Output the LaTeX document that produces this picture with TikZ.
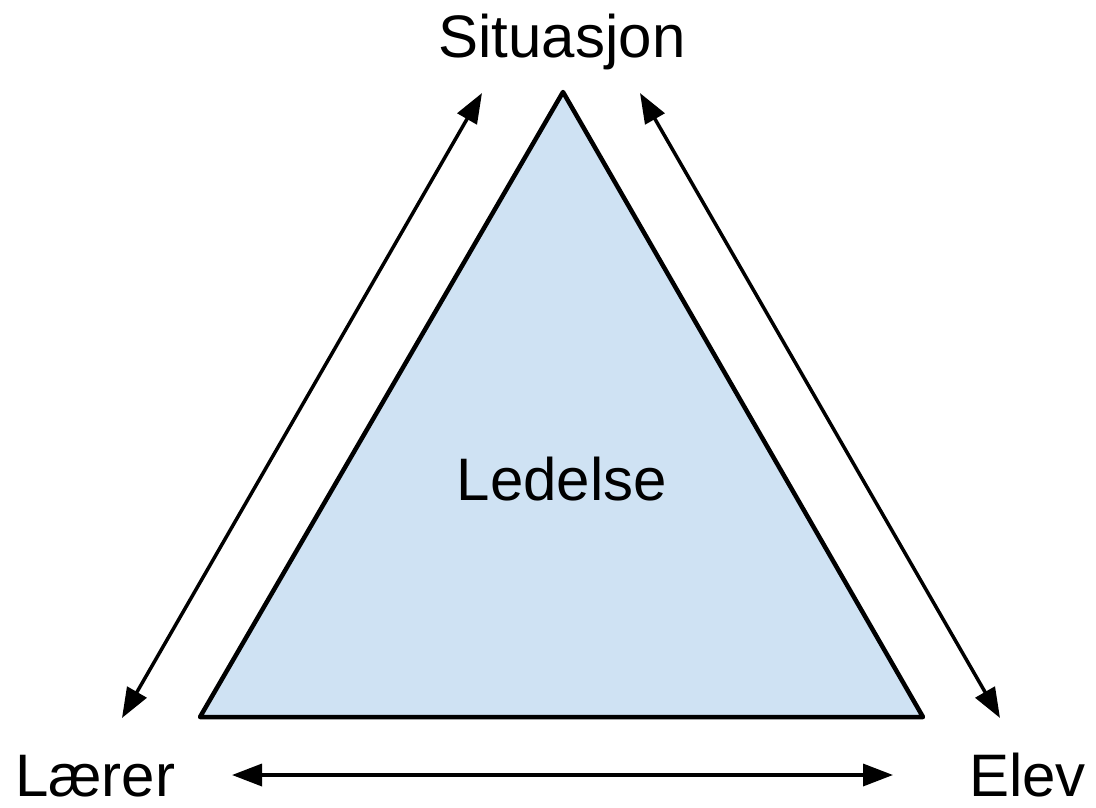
\documentclass[tikz,border=0pt]{standalone}
\usepackage{fontspec}
\setmainfont{Liberation Sans}
\usetikzlibrary{arrows.meta}
\definecolor{triblue}{HTML}{CFE2F3}
\begin{document}
\begin{tikzpicture}[x=1pt,y=-1pt,
  lbl/.style={font=\fontsize{60}{60}\selectfont, inner sep=0pt, anchor=base},
  rel/.style={line width=3.5pt, {Triangle[length=30pt,width=22pt]}-{Triangle[length=30pt,width=22pt]}}]
\useasboundingbox (0,0) rectangle (1096,807);
\coordinate (A) at (563,92);
\coordinate (B) at (200,717);
\coordinate (C) at (923,717);
\filldraw[fill=triblue, draw=black, line width=4.5pt, line join=round] (A) -- (B) -- (C) -- cycle;
\node[lbl] (sit) at (562,57) {Situasjon};
\node[lbl] (led) at (562,500) {Ledelse};
\node[lbl, anchor=base west] (lar) at (15,796) {Lærer};
\node[lbl, anchor=base east] (elv) at (1086,796) {Elev};
\coordinate (l1) at (122,718);
\coordinate (l2) at (482,93);
\coordinate (r1) at (640,93);
\coordinate (r2) at (1000,718);
\coordinate (b1) at (232,775);
\coordinate (b2) at (893,775);
\draw[rel] (l1) -- (l2);
\draw[rel] (r1) -- (r2);
\draw[rel] (b1) -- (b2);
\end{tikzpicture}
\end{document}
